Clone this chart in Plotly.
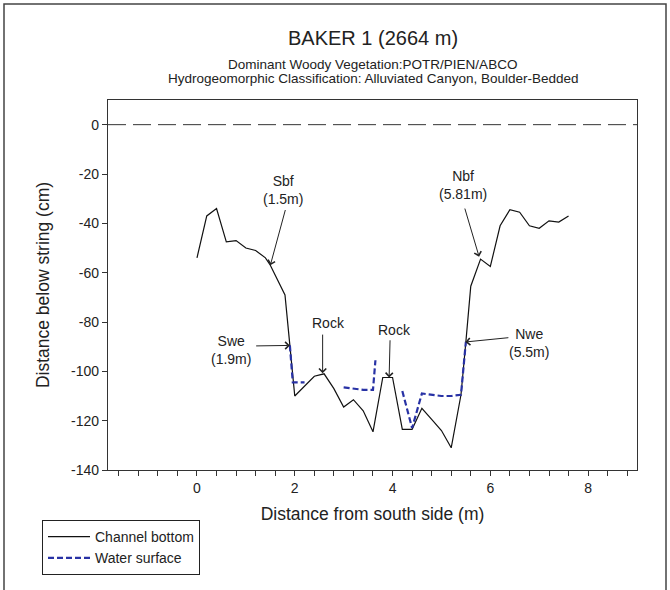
import plotly.graph_objects as go

# ---- data ----
bottom_x = [0, 0.2, 0.4, 0.6, 0.8, 1.0, 1.2, 1.4, 1.5, 1.6, 1.8, 1.9, 2.0, 2.4, 2.6,
            2.8, 3.0, 3.2, 3.4, 3.6, 3.8, 4.0, 4.2, 4.4, 4.6, 4.8, 5.0, 5.2, 5.4,
            5.5, 5.6, 5.8, 6.0, 6.2, 6.4, 6.6, 6.8, 7.0, 7.2, 7.4, 7.6]
bottom_y = [-54, -37, -34, -47.5, -47, -50, -51, -54, -57, -61, -69, -89.5, -110, -102, -101,
            -107, -114.5, -111.5, -116, -124.5, -102.5, -102.5, -123.5, -123.5, -115, -119.5, -124, -131, -109.5,
            -88, -65.5, -54.5, -57.5, -41, -34.5, -35.5, -41, -42, -39, -39.5, -37]

water_x = [1.9, 1.96, 2.2, None, 3.0, 3.2, 3.4, 3.6, 3.65, None,
           4.2, 4.4, 4.6, 4.8, 5.0, 5.2, 5.4, 5.5]
water_y = [-89.5, -104.5, -104.5, None, -106.5, -107, -107.5, -107.5, -95.5, None,
           -108, -123, -109, -109.5, -110, -110, -109.5, -88]

y_ticks = [-140, -120, -100, -80, -60, -40, -20, 0]
y_ticktext = ["-140", "-120", "-100", "-80", "-60", "-40", "-20", "0"]
x_ticks = [0, 2, 4, 6, 8]
x_ticktext = ["0", "2", "4", "6", "8"]

title = "BAKER 1 (2664 m)"
subtitle1 = "Dominant Woody Vegetation:POTR/PIEN/ABCO"
subtitle2 = "Hydrogeomorphic Classification: Alluviated Canyon, Boulder-Bedded"

FONT = "Liberation Sans, Arial, sans-serif"
TXT = "#222222"

fig = go.Figure()
fig.add_trace(go.Scatter(x=bottom_x, y=bottom_y, mode="lines", name="Channel bottom",
                         line=dict(color="#111111", width=1.2)))
fig.add_trace(go.Scatter(x=water_x, y=water_y, mode="lines", name="Water surface",
                         connectgaps=False,
                         line=dict(color="rgb(40,50,165)", width=2.2, dash="6px,3px")))

# zero reference line (string level)
fig.add_shape(type="line", xref="paper", yref="y", x0=0, x1=1, y0=0, y1=0,
              line=dict(color="#333333", width=1, dash="18px,7px"), layer="below")

# outer border
L, R, T, B = 108, 637, 100, 470
W, H = R - L, B - T
def px2paper_x(p): return (p - L) / W
def px2paper_y(p): return (B - p) / H
fig.add_shape(type="rect", xref="paper", yref="paper",
              x0=px2paper_x(4), x1=px2paper_x(666), y0=px2paper_y(600), y1=px2paper_y(4),
              line=dict(color="#444444", width=1.5))

annots = []
# titles
annots.append(dict(text=title, x=0.5, y=px2paper_y(38), xref="paper", yref="paper",
                   yanchor="middle", showarrow=False, font=dict(size=20, color=TXT, family=FONT)))
annots.append(dict(text=subtitle1, x=0.5, y=px2paper_y(64), xref="paper", yref="paper",
                   yanchor="middle", showarrow=False, font=dict(size=13.5, color=TXT, family=FONT)))
annots.append(dict(text=subtitle2, x=0.5, y=px2paper_y(79), xref="paper", yref="paper",
                   yanchor="middle", showarrow=False, font=dict(size=13.5, color=TXT, family=FONT)))

# labelled arrows: (text, text_x, text_y, tail_x, tail_y, tip_x, tip_y)
labels = [
    ("Sbf<br>(1.5m)", 1.76, -26.5, 1.815, -34, 1.5, -57),
    ("Swe<br>(1.9m)", 0.70, -91.3, 1.18, -89.7, 1.9, -89.5),
    ("Rock", 2.70, -80.4, 2.57, -84.5, 2.57, -100.8),
    ("Rock", 4.04, -83.3, 3.95, -86.8, 3.93, -102.5),
    ("Nbf<br>(5.81m)", 5.45, -24.5, 5.47, -33.4, 5.77, -53.5),
    ("Nwe<br>(5.5m)", 6.80, -88.5, 6.40, -86.3, 5.49, -88.1),
]
for txt, tx, ty, ax, ay, hx, hy in labels:
    annots.append(dict(text=txt, x=tx, y=ty, xref="x", yref="y", showarrow=False,
                       font=dict(size=14, color=TXT, family=FONT)))
    annots.append(dict(text="", x=hx, y=hy, xref="x", yref="y", ax=ax, ay=ay,
                       axref="x", ayref="y", showarrow=True, arrowhead=4,
                       arrowsize=1.4, arrowwidth=1, arrowcolor="#222222", standoff=0))

fig.update_layout(
    width=670, height=590,
    margin=dict(l=L, r=670 - R, t=T, b=590 - B),
    paper_bgcolor="white", plot_bgcolor="white",
    font=dict(family=FONT, size=14, color=TXT),
    annotations=annots,
    showlegend=True,
    legend=dict(x=px2paper_x(42), y=px2paper_y(520), xanchor="left", yanchor="top",
                bordercolor="#222222", borderwidth=1, bgcolor="white", itemwidth=42,
                font=dict(size=14, color=TXT, family=FONT), tracegroupgap=0),
)
fig.update_xaxes(range=[-1.82, 9], tickvals=x_ticks, ticktext=x_ticktext,
                 ticks="outside", ticklen=5,
                 tickcolor="#333333", showgrid=False, zeroline=False,
                 showline=True, linecolor="#333333", linewidth=1.2, mirror=True,
                 minor=dict(dtick=0.4, tick0=0, ticks="outside", ticklen=5, tickcolor="#333333"),
                 tickfont=dict(size=14),
                 title=dict(text="Distance from south side (m)", font=dict(size=17.5), standoff=12))
fig.update_yaxes(range=[-140, 10], tickvals=y_ticks, ticktext=y_ticktext,
                 ticks="outside", ticklen=5,
                 tickcolor="#333333", showgrid=False, zeroline=False,
                 showline=True, linecolor="#333333", linewidth=1.2, mirror=True,
                 tickfont=dict(size=14),
                 title=dict(text="Distance below string (cm)", font=dict(size=17.5), standoff=16))

fig.write_html("out.html")
